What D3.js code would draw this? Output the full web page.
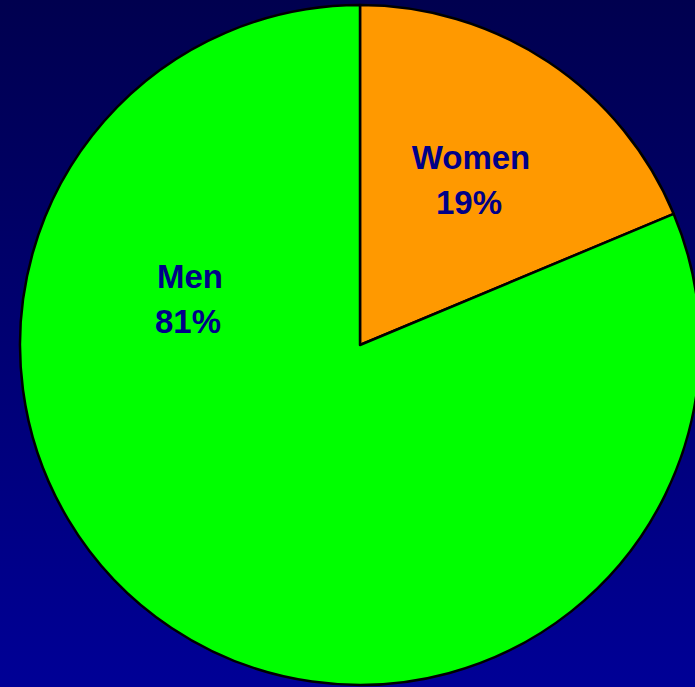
<!DOCTYPE html>
<html><head><meta charset="utf-8">
<script src="https://cdn.jsdelivr.net/npm/d3@7"></script>
<style>html,body{margin:0;padding:0;overflow:hidden;}</style>
</head><body>
<svg id="chart" width="695" height="687"></svg>
<script>
const categories = ["Women", "Men"];
const values = [18.7, 81.3];
const labels = ["19%", "81%"];
const colors = ["#FF9900", "#00FF00"];
const labelPos = [[471, 169], [190, 288]];

const svg = d3.select("#chart");
const defs = svg.append("defs");
const grad = defs.append("linearGradient").attr("id", "bg").attr("x1", 0).attr("y1", 0).attr("x2", 0).attr("y2", 1);
grad.append("stop").attr("offset", "0%").attr("stop-color", "#00004F");
grad.append("stop").attr("offset", "100%").attr("stop-color", "#000096");
svg.append("rect").attr("width", 695).attr("height", 687).attr("fill", "url(#bg)");

const cx = 360, cy = 345, r = 340;
const pie = d3.pie().sort(null).value(d => d.v);
const data = categories.map((c, i) => ({c, v: values[i], lab: labels[i], col: colors[i], lp: labelPos[i]}));
const arcs = pie(data);
const arc = d3.arc().innerRadius(0).outerRadius(r);
const g = svg.append("g").attr("transform", `translate(${cx},${cy})`);
g.selectAll("path").data(arcs).join("path")
  .attr("d", arc).attr("fill", d => d.data.col)
  .attr("stroke", "#000").attr("stroke-width", 2.5).attr("stroke-linejoin", "round");

const t = svg.append("g").attr("font-family", "Arial, 'Liberation Sans', sans-serif")
  .attr("font-weight", "bold").attr("font-size", 33).attr("fill", "#000088").attr("text-anchor", "middle");
arcs.forEach(d => {
  t.append("text").attr("x", d.data.lp[0]).attr("y", d.data.lp[1]).text(d.data.c);
  t.append("text").attr("x", d.data.lp[0] - 2).attr("y", d.data.lp[1] + 45).text(d.data.lab);
});
</script>
</body></html>
